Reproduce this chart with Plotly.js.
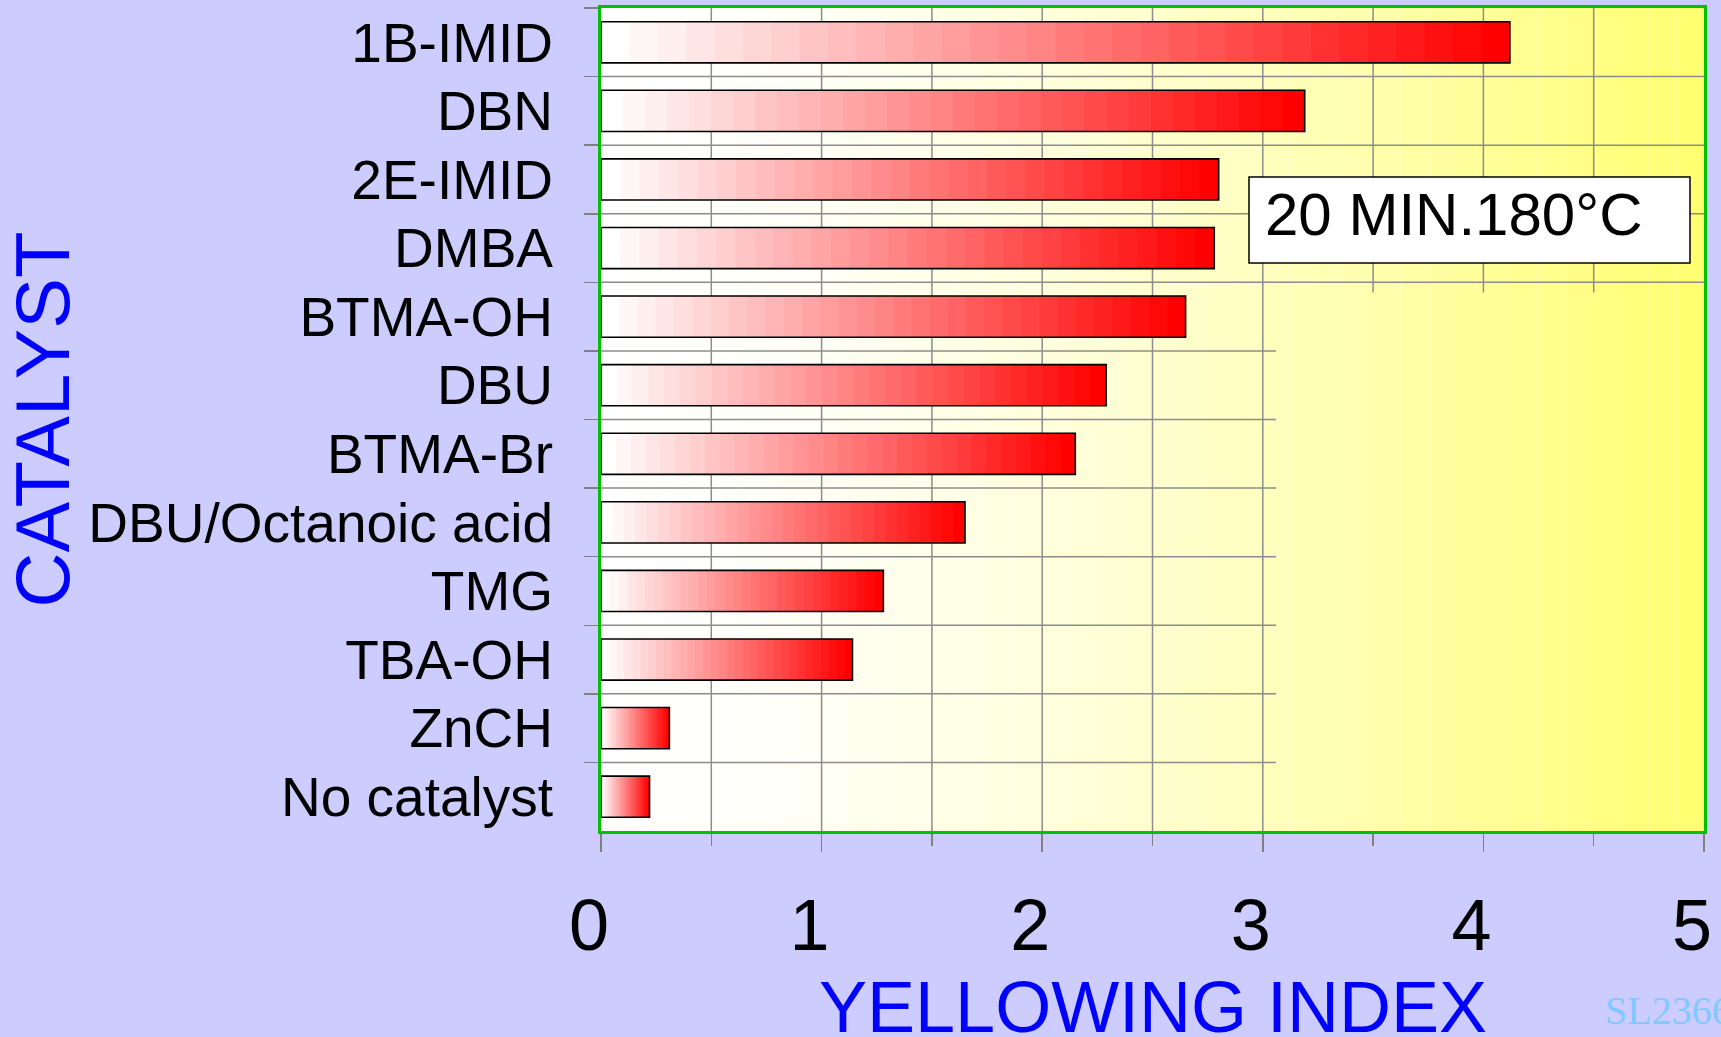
<!DOCTYPE html>
<html>
<head>
<meta charset="utf-8">
<script src="https://cdn.plot.ly/plotly-3.0.1.min.js"></script>
<style>html,body{margin:0;padding:0;background:#ccccff;}#chart{width:1721px;height:1037px;}</style>
</head>
<body>
<div id="chart"></div>
<script>
// ---- data ----
const categories = ['1B-IMID','DBN','2E-IMID','DMBA','BTMA-OH','DBU','BTMA-Br','DBU/Octanoic acid','TMG','TBA-OH','ZnCH','No catalyst'];
const yellowingIndex = [4.12, 3.19, 2.80, 2.78, 2.65, 2.29, 2.15, 1.65, 1.28, 1.14, 0.31, 0.22];
const xTickVals = [0, 1, 2, 3, 4, 5];
const xTickText = ['0', '1', '2', '3', '4', '5'];
const boxText = '20 MIN.180°C';
const footerText = 'SL2366';
const xTitle = 'YELLOWING INDEX';
const yTitle = 'CATALYST';

// ---- styling ----
const W = 1721, H = 1037;
const M = {l: 601, r: 17, t: 8, b: 206};
const PW = W - M.l - M.r, PH = H - M.t - M.b;
const XMAX = 5;
const GRID = '#8c8c8c';
const NB = 32;        // colour steps in each bar
const NBG = 40;       // colour steps in background

const traces = [];
for (let j = 0; j < NB; j++) {
  const t = j / (NB - 1);
  const c = Math.round(255 * (1 - t));
  traces.push({
    type: 'bar', orientation: 'h',
    y: categories,
    x: yellowingIndex.map(v => v * (NB - j) / NB),
    base: yellowingIndex.map(v => v * j / NB),
    width: 0.6,
    marker: {color: `rgb(255,${c},${c})`, line: {width: 0}},
    hoverinfo: 'skip', showlegend: false
  });
}
traces.push({
  type: 'bar', orientation: 'h',
  y: categories, x: yellowingIndex, base: yellowingIndex.map(() => 0),
  width: 0.6,
  marker: {color: 'rgba(0,0,0,0)', line: {color: '#000000', width: 1.6}},
  hovertemplate: '%{y}: %{x}<extra></extra>', showlegend: false
});

const shapes = [];
// background gradient (white -> yellow)
for (let i = 0; i < NBG; i++) {
  const t = (i + 0.5) / NBG;
  const b = Math.round(255 - 145 * Math.pow(t, 1.6));
  shapes.push({type: 'rect', xref: 'x', yref: 'paper', x0: XMAX * i / NBG, x1: XMAX * (i + 1) / NBG,
    y0: 0, y1: 1, fillcolor: `rgb(255,255,${b})`, line: {width: 0}, layer: 'below'});
}
// grid: full in upper part, partial below
const nCat = categories.length;
const upperRows = 4;
for (let gx = 0.5; gx < XMAX; gx += 0.5) {
  const full = gx <= 3;
  shapes.push({type: 'line', xref: 'x', yref: full ? 'paper' : 'y', x0: gx, x1: gx,
    y0: full ? 0 : upperRows - 0.5 + 0.15, y1: full ? 1 : -0.5,
    line: {color: GRID, width: 1.5}, layer: 'below'});
}
for (let k = 0; k < nCat - 1; k++) {
  const yb = k + 0.5;
  shapes.push({type: 'line', xref: 'x', yref: 'y', x0: 0, x1: k < upperRows ? XMAX : 3.06,
    y0: yb, y1: yb, line: {color: GRID, width: 1.5}, layer: 'below'});
}
// label box
shapes.push({type: 'rect', xref: 'paper', yref: 'paper',
  x0: (1249 - M.l) / PW, x1: (1690 - M.l) / PW,
  y0: 1 - (263 - M.t) / PH, y1: 1 - (177 - M.t) / PH,
  fillcolor: '#ffffff', line: {color: '#000000', width: 1.5}, layer: 'above'});

const layout = {
  width: W, height: H,
  margin: M,
  paper_bgcolor: '#ccccff',
  plot_bgcolor: '#ffffff',
  barmode: 'overlay',
  bargap: 0.4,
  font: {family: '"Liberation Sans", Arial, sans-serif', color: '#000000'},
  xaxis: {
    range: [0, XMAX], fixedrange: true,
    tickmode: 'array', tickvals: xTickVals, ticktext: xTickText,
    ticks: 'outside', ticklen: 18, tickwidth: 1.5, tickcolor: '#808080',
    minor: {dtick: 0.5, tick0: 0, ticks: 'outside', ticklen: 12, tickwidth: 1.5, tickcolor: '#808080', showgrid: false},
    tickfont: {size: 72, color: '#000000'},
    ticklabelshift: -12, ticklabelstandoff: 12,
    showgrid: false, zeroline: false,
    showline: true, linecolor: '#00c000', linewidth: 3, mirror: true,
    automargin: false
  },
  yaxis: {
    type: 'category', range: [nCat - 0.5, -0.5], fixedrange: true,
    tickson: 'boundaries',
    ticks: 'outside', ticklen: 14, tickwidth: 1.5, tickcolor: '#808080',
    tickfont: {size: 55, color: '#000000'},
    ticklabelstandoff: 34,
    showgrid: false, zeroline: false,
    showline: true, linecolor: '#00c000', linewidth: 3, mirror: true,
    title: {text: yTitle, font: {size: 76, color: '#0000ff'}, standoff: 4},
    automargin: false
  },
  shapes: shapes,
  annotations: [
    {text: xTitle, xref: 'paper', yref: 'paper', x: 0.5, y: 1 - (1007 - M.t) / PH,
      xanchor: 'center', yanchor: 'middle', showarrow: false, font: {size: 72, color: '#0000ff'}},
    {text: boxText, xref: 'paper', yref: 'paper', x: (1263 - M.l) / PW, y: 1 - (214 - M.t) / PH,
      xanchor: 'left', yanchor: 'middle', showarrow: false, font: {size: 60, color: '#000000'}},
    {text: footerText, xref: 'paper', yref: 'paper', x: (1603 - M.l) / PW, y: 1 - (1010 - M.t) / PH,
      xanchor: 'left', yanchor: 'middle', showarrow: false,
      font: {size: 40, color: '#80c8ff', family: '"Liberation Serif", "Times New Roman", serif'}}
  ]
};

Plotly.newPlot('chart', traces, layout, {displayModeBar: false, staticPlot: true});
</script>
</body>
</html>
